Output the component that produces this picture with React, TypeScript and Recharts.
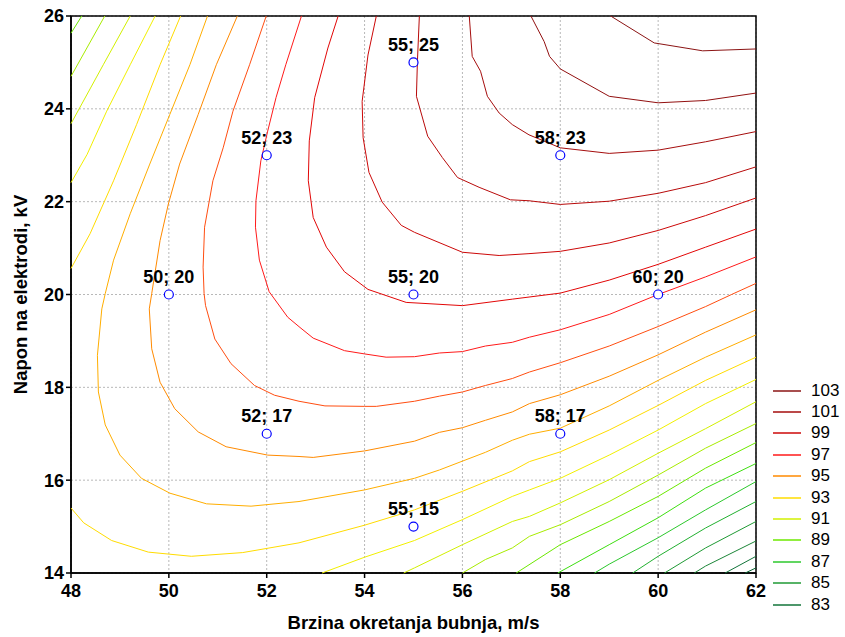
import React from 'react'
import {
  ScatterChart,
  Scatter,
  XAxis,
  YAxis,
  CartesianGrid,
  LabelList,
  ReferenceArea,
} from 'recharts'

// contour polylines, [x, y]
const c103 = [[59.03, 26], [59.92, 25.42], [60.91, 25.25], [62, 25.29]]
const c102 = [[57.4, 26], [57.67, 25.45], [57.78, 25.13], [58, 24.86], [59, 24.27], [60, 24.13], [60.97, 24.18], [62, 24.34]]
const c101 = [[56.14, 26], [56.2, 25.13], [56.37, 24.81], [56.51, 24.27], [56.75, 23.91], [57.02, 23.66], [57.36, 23.44], [58, 23.16], [59, 23.04], [60, 23.11], [60.97, 23.29], [62, 23.51]]
const c100 = [[55.12, 26], [55.08, 25.02], [55.06, 24.27], [55.29, 23.41], [55.59, 22.95], [55.9, 22.52], [56.34, 22.31], [56.98, 22.04], [57.36, 22.02], [58, 21.94], [59, 22.01], [60, 22.18], [60.97, 22.41], [62, 22.75]]
const c99 = [[54.24, 26], [54.07, 25.16], [53.95, 24.16], [53.97, 23.38], [54.09, 22.63], [54.36, 21.99], [54.75, 21.49], [55.02, 21.34], [56, 20.91], [56.75, 20.84], [57.36, 20.88], [58, 20.93], [59, 21.11], [60, 21.38], [60.97, 21.7], [62, 22.08]]
const c98 = [[53.46, 26], [53.25, 25.31], [52.98, 24.24], [52.87, 23.31], [52.85, 22.45], [52.95, 21.66], [53.22, 21.02], [53.59, 20.49], [54.07, 20.11], [54.85, 19.83], [56, 19.76], [57.02, 19.9], [58, 20.03], [59, 20.31], [60, 20.65], [60.97, 21.02], [62, 21.41]]
const c97 = [[52.71, 26], [52.39, 24.95], [52.19, 24.24], [52.02, 23.52], [51.88, 22.88], [51.78, 22.02], [51.77, 21.45], [51.85, 20.74], [52.05, 20.06], [52.43, 19.51], [52.68, 19.29], [52.95, 19.06], [53.59, 18.79], [54, 18.72], [54.44, 18.65], [55.02, 18.66], [55.53, 18.74], [56, 18.77], [56.47, 18.89], [57.02, 18.97], [57.37, 19.08], [58, 19.24], [59, 19.57], [60, 20], [60.97, 20.38], [62, 20.81]]
const c96 = [[51.99, 26], [51.65, 24.95], [51.31, 23.95], [51.11, 23.16], [50.9, 22.45], [50.73, 21.45], [50.7, 20.59], [50.72, 20.02], [50.75, 19.76], [50.94, 19.04], [51.27, 18.51], [51.75, 18.04], [52.16, 17.83], [52.66, 17.7], [53.19, 17.6], [54, 17.59], [54.24, 17.59], [55.02, 17.7], [55.53, 17.81], [56, 17.9], [56.47, 18.04], [57.02, 18.19], [57.37, 18.33], [58, 18.53], [59, 18.89], [60, 19.31], [60.97, 19.74], [61.5, 20], [62, 20.24]]
const c95 = [[51.4, 26], [50.97, 24.95], [50.6, 23.88], [50.22, 22.81], [49.99, 21.95], [49.82, 21.16], [49.65, 20.02], [49.6, 19.69], [49.65, 18.83], [49.82, 18.11], [50.12, 17.54], [50.6, 17.04], [51.17, 16.72], [52.02, 16.54], [52.66, 16.51], [52.95, 16.49], [54, 16.63], [55.02, 16.84], [55.53, 17.03], [56, 17.13], [56.47, 17.29], [57.02, 17.47], [57.37, 17.65], [58, 17.84], [59, 18.24], [60, 18.7], [60.97, 19.19], [62, 19.67]]
const c94 = [[50.79, 26], [50.43, 24.95], [50.02, 23.88], [49.61, 22.81], [49.21, 21.74], [48.87, 20.74], [48.7, 20.02], [48.63, 19.69], [48.54, 18.69], [48.56, 17.9], [48.7, 17.19], [49, 16.54], [49.44, 16.04], [50.02, 15.72], [50.77, 15.49], [51.68, 15.44], [52.66, 15.54], [54, 15.79], [55.02, 16.04], [55.53, 16.22], [56, 16.41], [56.47, 16.6], [57.02, 16.86], [57.37, 16.99], [58, 17.12], [59, 17.6], [60, 18.15], [60.97, 18.65], [62, 19.13]]
const c93a = [[50.24, 26], [49.82, 24.95], [49.34, 23.66], [48.87, 22.45], [48.39, 21.31], [48, 20.56]]
const c93b = [[48, 15.4], [48.26, 15.08], [48.83, 14.7], [49.58, 14.45], [50.46, 14.36], [51.51, 14.44], [52.66, 14.65], [54, 15.03], [55.02, 15.36], [56, 15.76], [57.02, 16.2], [57.37, 16.4], [58, 16.61], [59, 17.08], [60, 17.61], [60.97, 18.15], [62, 18.65]]
const c92a = [[49.72, 26], [49.21, 24.95], [48.73, 23.95], [48.33, 23.02], [48, 22.41]]
const c92b = [[53.13, 14], [54, 14.34], [55.02, 14.7], [56, 15.15], [57.02, 15.65], [57.37, 15.79], [58, 16.04], [59, 16.54], [60, 17.08], [60.97, 17.65], [62, 18.17]]
const c91a = [[49.21, 26], [48.66, 24.95], [48, 23.68]]
const c91b = [[54.8, 14], [55.02, 14.11], [56, 14.61], [57.02, 15.11], [57.37, 15.22], [58, 15.51], [59, 16.01], [60, 16.58], [60.97, 17.11], [62, 17.69]]
const c90a = [[48.69, 26], [48, 24.7]]
const c90b = [[56, 14], [56.47, 14.29], [57.02, 14.54], [57.37, 14.79], [58, 15.04], [59, 15.54], [60, 16.11], [60.97, 16.69], [62, 17.22]]
const c89a = [[48.22, 26], [48, 25.63]]
const c89b = [[57.1, 14], [58, 14.61], [59, 15.11], [60, 15.65], [60.97, 16.26], [62, 16.81]]
const c88 = [[57.95, 14], [59, 14.61], [60, 15.19], [60.97, 15.83], [62, 16.36]]
const c87 = [[58.7, 14], [59, 14.19], [60, 14.76], [60.97, 15.36], [62, 15.97]]
const c86 = [[59.48, 14], [60, 14.36], [60.97, 14.97], [62, 15.54]]
const c85 = [[60.13, 14], [60.97, 14.54], [62, 15.11]]
const c84 = [[60.74, 14], [60.97, 14.15], [62, 14.69]]
const c83 = [[61.37, 14], [62, 14.36]]
const c82 = [[61.78, 14], [62, 14.11]]

// experiment points
const pointX = [55, 52, 58, 50, 55, 60, 52, 58, 55]
const pointY = [25, 23, 23, 20, 20, 20, 17, 17, 15]

const xTicks = [48, 50, 52, 54, 56, 58, 60, 62]
const yTicks = [14, 16, 18, 20, 22, 24, 26]
const legendLevels = [103, 101, 99, 97, 95, 93, 91, 89, 87, 85, 83]

const LEVEL_COLORS: Record<number, string> = {
  103: '#8b1414',
  102: '#921010',
  101: '#a50d0d',
  100: '#b80a0a',
  99: '#cc0808',
  98: '#e20606',
  97: '#ff1a1a',
  96: '#ff4d10',
  95: '#ff8a00',
  94: '#ffae00',
  93: '#ffdc00',
  92: '#f2f000',
  91: '#d2f000',
  90: '#a8ec00',
  89: '#6ce800',
  88: '#3ede10',
  87: '#2cc82c',
  86: '#22b030',
  85: '#1f9a34',
  84: '#1c8638',
  83: '#12743a',
  82: '#0a6332',
}

const contours = [
  { level: 103, parts: [c103] },
  { level: 102, parts: [c102] },
  { level: 101, parts: [c101] },
  { level: 100, parts: [c100] },
  { level: 99, parts: [c99] },
  { level: 98, parts: [c98] },
  { level: 97, parts: [c97] },
  { level: 96, parts: [c96] },
  { level: 95, parts: [c95] },
  { level: 94, parts: [c94] },
  { level: 93, parts: [c93a, c93b] },
  { level: 92, parts: [c92a, c92b] },
  { level: 91, parts: [c91a, c91b] },
  { level: 90, parts: [c90a, c90b] },
  { level: 89, parts: [c89a, c89b] },
  { level: 88, parts: [c88] },
  { level: 87, parts: [c87] },
  { level: 86, parts: [c86] },
  { level: 85, parts: [c85] },
  { level: 84, parts: [c84] },
  { level: 83, parts: [c83] },
  { level: 82, parts: [c82] },
]

const points = pointX.map((x, i) => ({ x, y: pointY[i], label: `${x}; ${pointY[i]}` }))

const FONT = "'Liberation Sans', Arial, sans-serif"

function NoDot() {
  return <g />
}

function PointMarker(props: any) {
  const { cx, cy } = props
  return <circle cx={cx} cy={cy} r={4.5} fill="#fff" stroke="#0000ff" strokeWidth={1.2} />
}

function PointLabel(props: any) {
  const { x, y, width, value } = props
  return (
    <text
      x={x + width / 2}
      y={y - 7}
      textAnchor="middle"
      fill="#000"
      fontSize={18}
      fontWeight="bold"
      fontFamily={FONT}
    >
      {value}
    </text>
  )
}

function ContourLegend() {
  return (
    <div
      style={{
        position: 'absolute',
        left: 770,
        top: 380,
        fontFamily: FONT,
        fontSize: 17,
        color: '#000',
      }}
    >
      {legendLevels.map((lv) => (
        <div key={lv} style={{ display: 'flex', alignItems: 'center', height: 21.4 }}>
          <svg width={34} height={4} style={{ marginRight: 7 }}>
            <line x1={3} y1={2} x2={31} y2={2} stroke={LEVEL_COLORS[lv]} strokeWidth={1.5} />
          </svg>
          <span>{lv}</span>
        </div>
      ))}
    </div>
  )
}

export default function App() {
  return (
    <div style={{ position: 'absolute', left: 0, top: 0, width: 845, height: 637, background: '#fff' }}>
      <ScatterChart width={845} height={637} margin={{ top: 16, right: 89, bottom: 14, left: 15 }}>
        <CartesianGrid stroke="#b8b8b8" strokeDasharray="2 2" />
        <XAxis
          type="number"
          dataKey="x"
          domain={[48, 62]}
          ticks={xTicks}
          height={50}
          tickSize={5}
          tickMargin={6}
          stroke="#000"
          strokeWidth={1.5}
          tick={{ fill: '#000', fontSize: 18, fontWeight: 'bold', fontFamily: FONT }}
          label={{
            value: 'Brzina okretanja bubnja, m/s',
            position: 'insideBottom',
            offset: -6,
            style: { fill: '#000', fontSize: 18.5, fontWeight: 'bold', fontFamily: FONT },
          }}
        />
        <YAxis
          type="number"
          dataKey="y"
          domain={[14, 26]}
          ticks={yTicks}
          width={56}
          tickSize={5}
          stroke="#000"
          strokeWidth={1.5}
          tick={{ fill: '#000', fontSize: 18, fontWeight: 'bold', fontFamily: FONT }}
          label={{
            value: 'Napon na elektrodi, kV',
            angle: -90,
            position: 'insideLeft',
            offset: 5,
            style: { textAnchor: 'middle', fill: '#000', fontSize: 18.5, fontWeight: 'bold', fontFamily: FONT },
          }}
        />
        <ReferenceArea x1={48} x2={62} y1={14} y2={26} fill="none" stroke="#000" strokeWidth={1.5} />
        {contours.map((c) =>
          c.parts.map((part, j) => (
            <Scatter
              key={`${c.level}-${j}`}
              data={part.map(([x, y]) => ({ x, y }))}
              line={{ stroke: LEVEL_COLORS[c.level], strokeWidth: 1 }}
              shape={NoDot}
              fill="none"
              isAnimationActive={false}
            />
          )),
        )}
        <Scatter data={points} shape={PointMarker} isAnimationActive={false}>
          <LabelList dataKey="label" content={PointLabel} />
        </Scatter>
      </ScatterChart>
      <ContourLegend />
    </div>
  )
}
